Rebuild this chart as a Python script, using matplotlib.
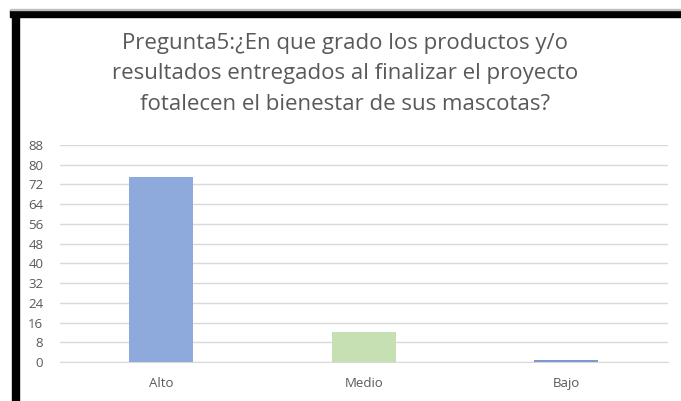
import matplotlib.pyplot as plt
from matplotlib.patches import Rectangle

categorias = ['Alto', 'Medio', 'Bajo']
valores = [75, 12, 1]
colores = ['#8EA9DB', '#C6E0B4', '#7F96D0']
titulo = 'Pregunta5:¿En que grado los productos y/o\nresultados entregados al finalizar el proyecto\nfotalecen el bienestar de sus mascotas?'

plt.rcParams['font.family'] = ['Open Sans', 'DejaVu Sans']

W, H = 681, 401
fig = plt.figure(figsize=(W / 100, H / 100), dpi=100)
ax = fig.add_axes([60 / W, 1 - 362 / H, 607.5 / W, 217 / H])

x = range(len(categorias))
ax.bar(x, valores, width=0.316, color=colores, zorder=3)
ax.set_xlim(-0.5, 2.5)
ax.set_ylim(0, 88)
ax.set_yticks(range(0, 89, 8))
ax.set_xticks(list(x))
ax.set_xticklabels(categorias)
ax.grid(axis='y', color='#D9D9D9', linewidth=1, zorder=0)
for s in ['top', 'right', 'left']:
    ax.spines[s].set_visible(False)
ax.spines['bottom'].set_color('#D9D9D9')
ax.tick_params(axis='both', length=0, colors='#595959', labelsize=9.5)
ax.tick_params(axis='x', pad=11)
ax.tick_params(axis='y', pad=12)

fig.text(345 / W, 1 - 74 / H, titulo, ha='center', va='center',
         fontsize=16, color='#595959', linespacing=1.6)

# marco negro (recorte de pantalla)
fig.patches.append(Rectangle((10 / W, 1 - 17 / H), 1, 7 / H, transform=fig.transFigure,
                             color='black', zorder=10))
fig.patches.append(Rectangle((12 / W, 0), 7 / W, 1 - 10 / H, transform=fig.transFigure,
                             color='black', zorder=10))
fig.patches.append(Rectangle((10 / W, 1 - 10 / H), 1, 1 / H, transform=fig.transFigure,
                             color='#BFBFBF', zorder=10))

fig.savefig('out.png', dpi=100)
